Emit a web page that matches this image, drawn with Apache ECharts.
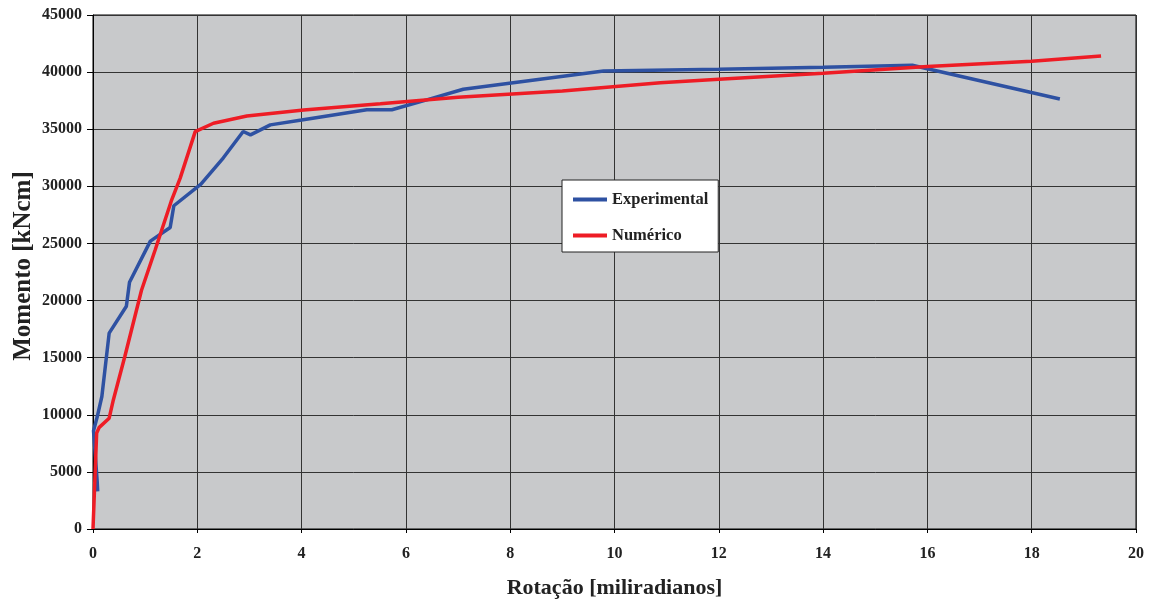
<!DOCTYPE html>
<html>
<head>
<meta charset="utf-8">
<script src="https://cdn.jsdelivr.net/npm/echarts@6/dist/echarts.min.js"></script>
<style>html,body{margin:0;padding:0;background:#fff;}#c{width:1155px;height:604px;}</style>
</head>
<body>
<div id="c"></div>
<script>
// Experimental: rotation [mrad], moment [kNcm]
const expRot = [0.09, 0.08, 0.01, 0.08, 0.17, 0.31, 0.64, 0.70, 1.10, 1.48, 1.55, 2.07, 2.50, 2.88, 3.02, 3.40, 4.00, 5.25, 5.73, 6.40, 7.10, 9.79, 12.00, 14.00, 15.71, 16.00, 18.54];
const expMom = [3300, 4200, 8600, 9800, 11600, 17150, 19500, 21600, 25200, 26400, 28300, 30200, 32500, 34800, 34500, 35380, 35800, 36700, 36700, 37570, 38500, 40100, 40250, 40430, 40600, 40300, 37650];
// Numérico
const numRot = [0.00, 0.07, 0.12, 0.31, 0.39, 0.61, 0.93, 1.19, 1.50, 1.67, 1.96, 2.31, 2.95, 4.04, 5.51, 7.00, 9.00, 10.88, 12.00, 14.00, 16.00, 18.00, 19.33];
const numMom = [0, 8400, 8900, 9700, 11300, 15100, 20900, 24400, 28700, 30700, 34790, 35520, 36160, 36690, 37220, 37800, 38350, 39060, 39380, 39900, 40500, 40950, 41420];
const xTicks = {min: 0, max: 20, step: 2};
const yTicks = {min: 0, max: 45000, step: 5000};

const pair = (xs, ys) => xs.map((x, i) => [x, ys[i]]);
const serif = '"Liberation Serif", "Times New Roman", serif';
const chart = echarts.init(document.getElementById('c'), null, {renderer: 'canvas'});
chart.setOption({
  animation: false,
  backgroundColor: '#ffffff',
  grid: {left: 93, right: 19, top: 15, bottom: 75, show: true, backgroundColor: '#C8C9CB', borderColor: '#000', borderWidth: 1,
         containLabel: false, outerBoundsMode: 'none'},
  legend: {
    orient: 'vertical', left: 562, top: 180,
    backgroundColor: '#fff', borderColor: '#222', borderWidth: 1,
    padding: [11, 10, 8, 11], itemWidth: 34, itemHeight: 4, itemGap: 19,
    icon: 'rect',
    textStyle: {fontFamily: serif, fontWeight: 'bold', fontSize: 16.5, color: '#222', lineHeight: 14},
    data: ['Experimental', 'Numérico']
  },
  xAxis: {
    type: 'value', min: xTicks.min, max: xTicks.max, interval: xTicks.step,
    name: 'Rotação [miliradianos]', nameLocation: 'middle', nameGap: 48, nameMoveOverlap: false,
    nameTextStyle: {fontFamily: serif, fontWeight: 'bold', fontSize: 22, color: '#222'},
    axisLine: {show: true, lineStyle: {color: '#000', width: 1}},
    axisTick: {show: true, length: 4, lineStyle: {color: '#000'}},
    axisLabel: {fontFamily: serif, fontWeight: 'bold', fontSize: 16, color: '#222', margin: 17},
    splitLine: {show: true, lineStyle: {color: '#333', width: 1}}
  },
  yAxis: {
    type: 'value', min: yTicks.min, max: yTicks.max, interval: yTicks.step,
    name: 'Momento [kNcm]', nameLocation: 'middle', nameGap: 57, nameRotate: 90, nameMoveOverlap: false,
    nameTextStyle: {fontFamily: serif, fontWeight: 'bold', fontSize: 25, color: '#222', padding: [0, 0, 0, 12]},
    axisLine: {show: true, lineStyle: {color: '#000', width: 1}},
    axisTick: {show: true, length: 6, lineStyle: {color: '#000'}},
    axisLabel: {fontFamily: serif, fontWeight: 'bold', fontSize: 16, color: '#222', margin: 11, formatter: v => String(v)},
    splitLine: {show: true, lineStyle: {color: '#333', width: 1}}
  },
  series: [
    {name: 'Experimental', type: 'line', data: pair(expRot, expMom), symbol: 'none', smooth: false,
     lineStyle: {color: '#2E51A2', width: 3.5}, itemStyle: {color: '#2E51A2'}, z: 2},
    {name: 'Numérico', type: 'line', data: pair(numRot, numMom), symbol: 'none', smooth: false,
     lineStyle: {color: '#EE1C25', width: 3.5}, itemStyle: {color: '#EE1C25'}, z: 3}
  ]
});
</script>
</body>
</html>
